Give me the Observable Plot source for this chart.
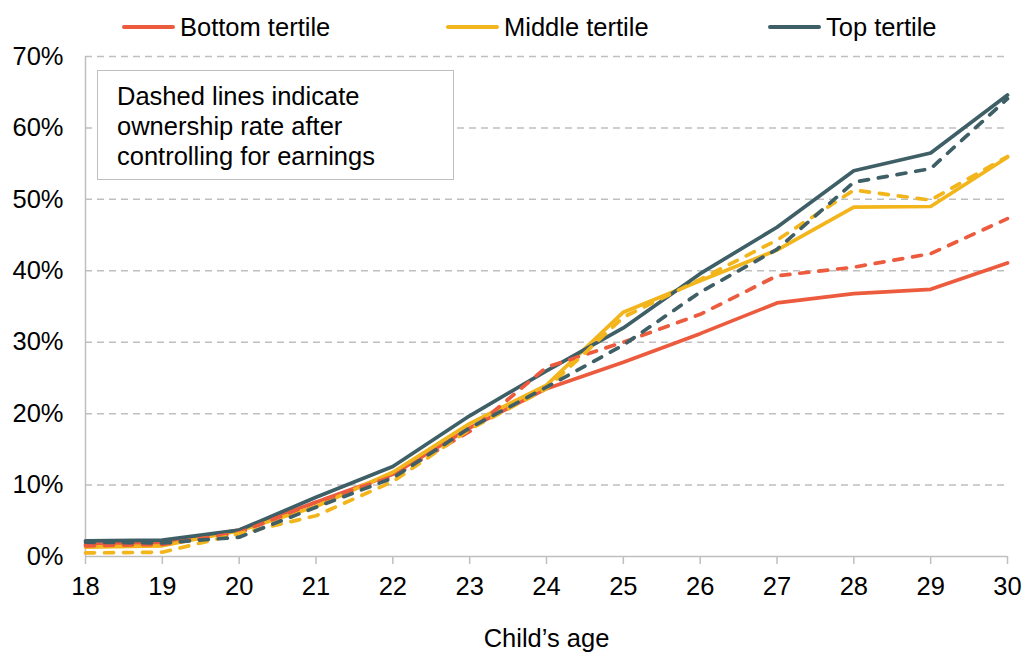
<!DOCTYPE html>
<html>
<head>
<meta charset="utf-8">
<script src="https://cdn.jsdelivr.net/npm/d3@7"></script>
<script src="https://cdn.jsdelivr.net/npm/@observablehq/plot@0.6"></script>
<style>
  body { margin: 0; background: #fff; font-family: "Liberation Sans", Arial, sans-serif; }
  #wrap { position: relative; width: 1024px; height: 652px; overflow: hidden; }
  #legend { position: relative; width: 1024px; height: 34px; }
  .item { position: absolute; top: 12px; display: flex; align-items: center; font-size: 25.5px; color: #000; line-height: 30px; }
  .sw { width: 53px; height: 4px; margin-right: 5px; border-radius: 2px; }
  #note { position: absolute; left: 97px; top: 70px; width: 357px; height: 110px; box-sizing: border-box;
          border: 1.5px solid #bfbfbf; background: #fff; font-size: 25.5px; line-height: 30px;
          padding: 10px 0 0 19px; color: #000; }
</style>
</head>
<body>
<div id="wrap">
  <div id="legend"></div>
  <div id="chart"></div>
  <div id="note"></div>
</div>
<script>
// ---- data ----
const ages = [18, 19, 20, 21, 22, 23, 24, 25, 26, 27, 28, 29, 30];
const seriesNames = ["Bottom tertile", "Middle tertile", "Top tertile"];
const seriesColors = ["#ec5b3d", "#f2b51c", "#3f5f67"];
// actual ownership rate (%)
const bottomActual = [1.7, 1.9, 3.7, 7.6, 11.5, 18.0, 23.5, 27.2, 31.2, 35.5, 36.8, 37.4, 41.1];
const middleActual = [1.3, 1.5, 3.6, 7.0, 11.8, 18.6, 24.0, 34.2, 38.6, 42.9, 48.9, 49.0, 55.9];
const topActual    = [2.2, 2.3, 3.7, 8.3, 12.6, 19.7, 26.0, 32.0, 39.6, 46.1, 54.0, 56.5, 64.6];
// after controlling for earnings (%)
const bottomAdjusted = [1.5, 1.7, 3.3, 7.6, 11.2, 17.5, 26.5, 30.0, 33.9, 39.3, 40.5, 42.4, 47.3];
const middleAdjusted = [0.5, 0.6, 3.2, 5.7, 10.5, 17.8, 23.5, 33.5, 38.8, 44.3, 51.3, 49.9, 56.0];
const topAdjusted    = [2.0, 1.9, 2.7, 6.9, 11.0, 18.0, 23.7, 29.6, 37.0, 43.0, 52.4, 54.3, 64.1];
const yTicks = [0, 10, 20, 30, 40, 50, 60, 70];
const noteLines = ["Dashed lines indicate", "ownership rate after", "controlling for earnings"];
const xLabel = "Child\u2019s age";

// ---- build tables ----
const actualSets = [bottomActual, middleActual, topActual];
const adjustedSets = [bottomAdjusted, middleAdjusted, topAdjusted];
const actualRows = actualSets.flatMap((vals, i) => vals.map((v, j) => ({age: ages[j], value: v, series: seriesNames[i]})));
const adjustedRows = adjustedSets.flatMap((vals, i) => vals.map((v, j) => ({age: ages[j], value: v, series: seriesNames[i]})));

const colorScale = {domain: seriesNames, range: seriesColors};

const chart = Plot.plot({
  width: 1024,
  height: 618,
  marginTop: 22,
  marginBottom: 96,
  marginLeft: 85,
  marginRight: 17,
  style: {fontFamily: "'Liberation Sans', Arial, sans-serif", fontSize: "25.5px", color: "#000", background: "transparent"},
  x: {domain: [18, 30]},
  y: {domain: [0, 70]},
  color: colorScale,
  marks: [
    Plot.gridY(yTicks.filter(d => d > 0), {stroke: "#bfbfbf", strokeOpacity: 1, strokeWidth: 1.5, strokeDasharray: "7,5"}),
    Plot.axisY(yTicks, {tickSize: 0, tickPadding: 22, tickFormat: d => d + "%", label: null, fontSize: 25.5}),
    Plot.axisX(ages, {tickSize: 8, tickPadding: 12, stroke: "#bfbfbf", strokeWidth: 1.5, label: xLabel, labelAnchor: "center", labelArrow: "none", labelOffset: 90, fontSize: 25.5}),
    Plot.ruleX([18], {stroke: "#bfbfbf", strokeWidth: 1.5}),
    Plot.ruleY([0], {stroke: "#bfbfbf", strokeWidth: 1.5}),
    Plot.line(actualRows, {x: "age", y: "value", z: "series", stroke: "series", strokeWidth: 3.7, strokeLinejoin: "round"}),
    Plot.line(adjustedRows, {x: "age", y: "value", z: "series", stroke: "series", strokeWidth: 3.7, strokeDasharray: "9,10", strokeLinecap: "round", strokeLinejoin: "round"})
  ]
});
document.getElementById("chart").appendChild(chart);

// legend
const legendPos = [122, 446, 768];
const legend = document.getElementById("legend");
seriesNames.forEach((name, i) => {
  const it = document.createElement("div");
  it.className = "item";
  it.style.left = legendPos[i] + "px";
  const sw = document.createElement("span");
  sw.className = "sw";
  sw.style.background = seriesColors[i];
  const tx = document.createElement("span");
  tx.textContent = name;
  it.appendChild(sw); it.appendChild(tx);
  legend.appendChild(it);
});

// note box
const note = document.getElementById("note");
note.innerHTML = noteLines.map(t => `<div>${t}</div>`).join("");
</script>
</body>
</html>
